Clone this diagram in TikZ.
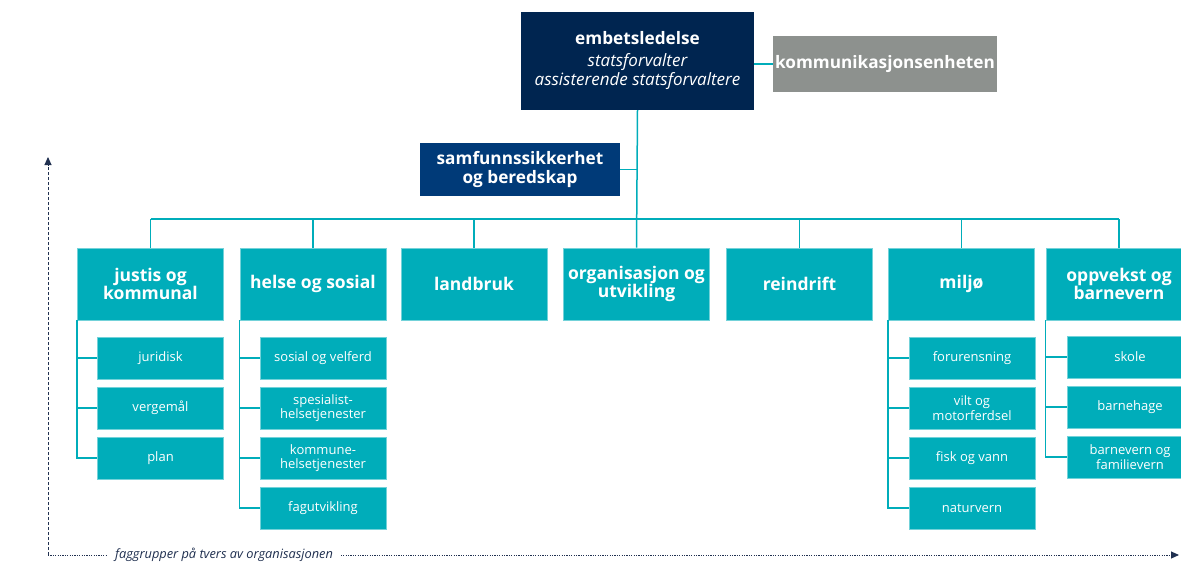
\documentclass[tikz,border=0pt]{standalone}
\usepackage{fontspec}
\setmainfont{Open Sans}
\usetikzlibrary{arrows.meta}
\definecolor{SFnavy}{RGB}{0,37,80}
\definecolor{SFblue}{RGB}{0,58,120}
\definecolor{SFgrey}{RGB}{141,145,142}
\definecolor{SFteal}{RGB}{0,173,186}
\definecolor{SFline}{RGB}{32,48,80}

\begin{document}
\begin{tikzpicture}[x=1pt,y=-1pt,
  stab/.style n args={3}{fill=#1,text=white,minimum width=#2pt,minimum height=#3pt,align=center,inner sep=0pt,font=\bfseries\fontsize{17.2}{19}\selectfont},
  enhet/.style={fill=SFteal,draw=SFteal!55!white,line width=0.6pt,text=white,minimum width=146pt,minimum height=72pt,align=center,inner sep=0pt,font=\bfseries\fontsize{17.5}{18}\selectfont},
  fag/.style={fill=SFteal,draw=SFteal!55!white,line width=0.6pt,text=white,minimum width=126pt,minimum height=42pt,align=center,inner sep=0pt,font=\fontsize{13}{14.5}\selectfont},
  linje/.style={SFteal,line width=1.5pt},
  akse/.style={SFline,line width=0.9pt,-{Triangle[length=8pt,width=7pt]}}]
\useasboundingbox (0,0) rectangle (1181,579);
\clip (0,0) rectangle (1181,579);
% ledelse og stab
\node[stab={SFnavy}{233}{98}] (emb) at (637.5,61)
   {embetsledelse\\[3pt]\mdseries\itshape\fontsize{17}{19}\selectfont statsforvalter\\\mdseries\itshape\fontsize{17}{19}\selectfont assisterende statsforvaltere};
\node[stab={SFgrey}{224}{56}] (komm) at (885,64) {kommunikasjonsenheten};
\node[stab={SFblue}{200}{53}] (samf) at (520,169.5) {samfunnssikkerhet\\og beredskap};
% avdelinger
\foreach \nm/\x/\txt in {jk/150.5/{justis og\\kommunal},hs/313/{helse og sosial},lb/474/{landbruk},
   ou/636.5/{organisasjon og\\utvikling},rd/799.5/{reindrift},mj/961.5/{milj\o},ob/1119/{oppvekst og\\barnevern}} {
   \node[enhet] (\nm) at (\x,284) {\txt};
}
% faggrupper under avdelingene
\foreach \txt [count=\i] in {juridisk,vergemål,plan}
   \node[fag] (jk\i) at (160.5,308+50*\i) {\txt};
\foreach \txt [count=\i] in {sosial og velferd,{spesialist-\\helsetjenester},{kommune-\\helsetjenester},fagutvikling}
   \node[fag] (hs\i) at (323,308+50*\i) {\txt};
\foreach \txt [count=\i] in {forurensning,{vilt og\\motorferdsel},fisk og vann,naturvern}
   \node[fag] (mj\i) at (972,308+50*\i) {\txt};
\foreach \txt [count=\i] in {skole,barnehage,{barnevern og\\familievern}}
   \node[fag] (ob\i) at (1130,307+50*\i) {\txt};
% linjer
\coordinate (buss) at (637,219);
\draw[linje] (emb.south) -- (ou.north);
\draw[linje] (emb.east |- komm.west) -- (komm.west);
\draw[linje] (samf.east) -- (samf.east -| emb.south);
\draw[linje] (jk.north |- buss) -- (ob.north |- buss);
\foreach \nm in {jk,hs,lb,rd,mj,ob}
   \draw[linje] (\nm.north) -- (\nm.north |- buss);
\draw[linje] (jk.south west) |- (jk3.west);
\draw[linje] (hs.south west) |- (hs4.west);
\draw[linje] (mj.south west) |- (mj4.west);
\draw[linje] (ob.south west) |- (ob3.west);
\foreach \nm/\n in {jk/2,hs/3,mj/3,ob/2} {
   \foreach \i in {1,...,\n}
      \draw[linje] (\nm\i.west) -- (\nm\i.west -| \nm.west);
}
% akser
\coordinate (origo) at (48,555);
\coordinate (yend) at (48,157);
\coordinate (xend) at (1179,555);
\draw[akse,dash pattern=on 3pt off 2pt] (origo) -- (yend);
\draw[akse,dash pattern=on 1.2pt off 1.2pt] (origo) -- (xend);
\node[fill=white,text=SFline,inner xsep=8pt,inner ysep=2pt,font=\itshape\fontsize{12.8}{14}\selectfont] (fag) at (224,555)
   {faggrupper på tvers av organisasjonen};
\end{tikzpicture}
\end{document}
